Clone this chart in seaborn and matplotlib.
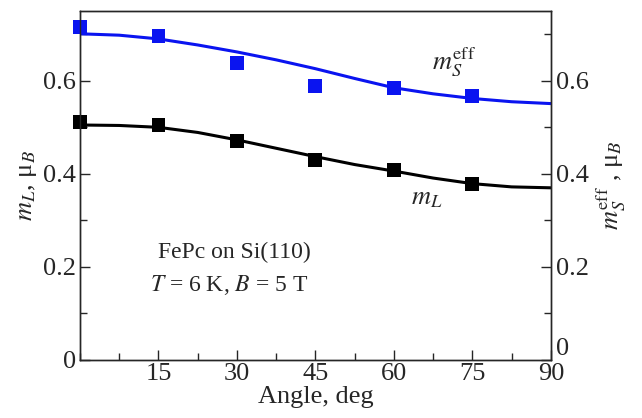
import matplotlib
matplotlib.use("Agg")
import matplotlib.pyplot as plt
import seaborn as sns
import pandas as pd
from matplotlib.ticker import MultipleLocator

# measured points
angle_pts = [0, 15, 30, 45, 60, 75]
ms_pts = [0.715, 0.697, 0.639, 0.589, 0.585, 0.568]
ml_pts = [0.512, 0.505, 0.471, 0.430, 0.409, 0.378]

# fitted curves
angle_fit = [0, 7.5, 15, 22.5, 30, 37.5, 45, 52.5, 60, 67.5, 75, 82.5, 90]
ms_fit = [0.701, 0.698, 0.690, 0.677, 0.662, 0.645, 0.626, 0.605, 0.585, 0.572, 0.562, 0.555, 0.551]
ml_fit = [0.505, 0.504, 0.500, 0.489, 0.473, 0.455, 0.437, 0.420, 0.406, 0.391, 0.379, 0.372, 0.370]

pts = pd.DataFrame({"angle": angle_pts, "ms": ms_pts, "ml": ml_pts})
fit = pd.DataFrame({"angle": angle_fit, "ms": ms_fit, "ml": ml_fit})

sns.set_style("ticks")
plt.rcParams["font.family"] = ["Liberation Serif", "DejaVu Serif"]
plt.rcParams["mathtext.fontset"] = "stix"

fig = plt.figure(figsize=(6.42, 4.18), dpi=100)
ax = fig.add_axes([0.1246, 0.1388, 0.7334, 0.8349])

sns.lineplot(data=fit, x="angle", y="ms", color="#0a14f0", lw=2.2, ax=ax)
sns.lineplot(data=fit, x="angle", y="ml", color="black", lw=2.2, ax=ax)
sns.scatterplot(data=pts, x="angle", y="ms", marker="s", s=100, color="#0a14f0",
                edgecolor="none", ax=ax, clip_on=False, zorder=5)
sns.scatterplot(data=pts, x="angle", y="ml", marker="s", s=100, color="black",
                edgecolor="none", ax=ax, clip_on=False, zorder=5)

ax.set_xlim(0, 90)
ax.set_ylim(0, 0.75)
ax.set_xticks([15, 30, 45, 60, 75, 90])
ax.xaxis.set_minor_locator(MultipleLocator(7.5))
ax.set_yticks([0, 0.2, 0.4, 0.6])
ax.set_yticklabels(["0", "0.2", "0.4", "0.6"])
ax.yaxis.set_minor_locator(MultipleLocator(0.1))
ax.tick_params(which="both", direction="in", labelsize=19, width=1)
ax.tick_params(which="major", length=7)
ax.tick_params(which="minor", length=5)
ax.tick_params(axis="x", pad=2)
ax.tick_params(axis="y", pad=3)
ax.set_xlabel("Angle, deg", fontsize=19, labelpad=1)
ax.set_ylabel(r"$m_L$, μ$_B$", fontsize=19, labelpad=3)

ax2 = ax.twinx()
ax2.set_ylim(0, 0.75)
ax2.set_yticks([0, 0.2, 0.4, 0.6])
ax2.set_yticklabels(["0", "0.2", "0.4", "0.6"])
ax2.yaxis.set_minor_locator(MultipleLocator(0.1))
ax2.tick_params(which="both", direction="in", labelsize=19, width=1)
ax2.tick_params(which="major", length=7)
ax2.tick_params(which="minor", length=5)
ax2.tick_params(axis="y", pad=4)
ax2.get_yticklabels()[0].set_verticalalignment("bottom")
ax2.set_ylabel(r"$m_S^{\rm eff}$ , μ$_B$", fontsize=19, labelpad=4)

for a in (ax, ax2):
    for s in a.spines.values():
        s.set_linewidth(1)

ax.text(67.3, 0.64, r"$m_S^{\rm eff}$", fontsize=19, ha="left", va="center")
ax.text(63.3, 0.345, r"$m_L$", fontsize=19, ha="left", va="center")
ax.text(14.9, 0.232, "FePc on Si(110)", fontsize=17, ha="left", va="center")
ax.text(13.4, 0.161, r"$T$ = 6 K, $B$ = 5 T", fontsize=17, ha="left", va="center")

fig.savefig("out.png", dpi=100)
